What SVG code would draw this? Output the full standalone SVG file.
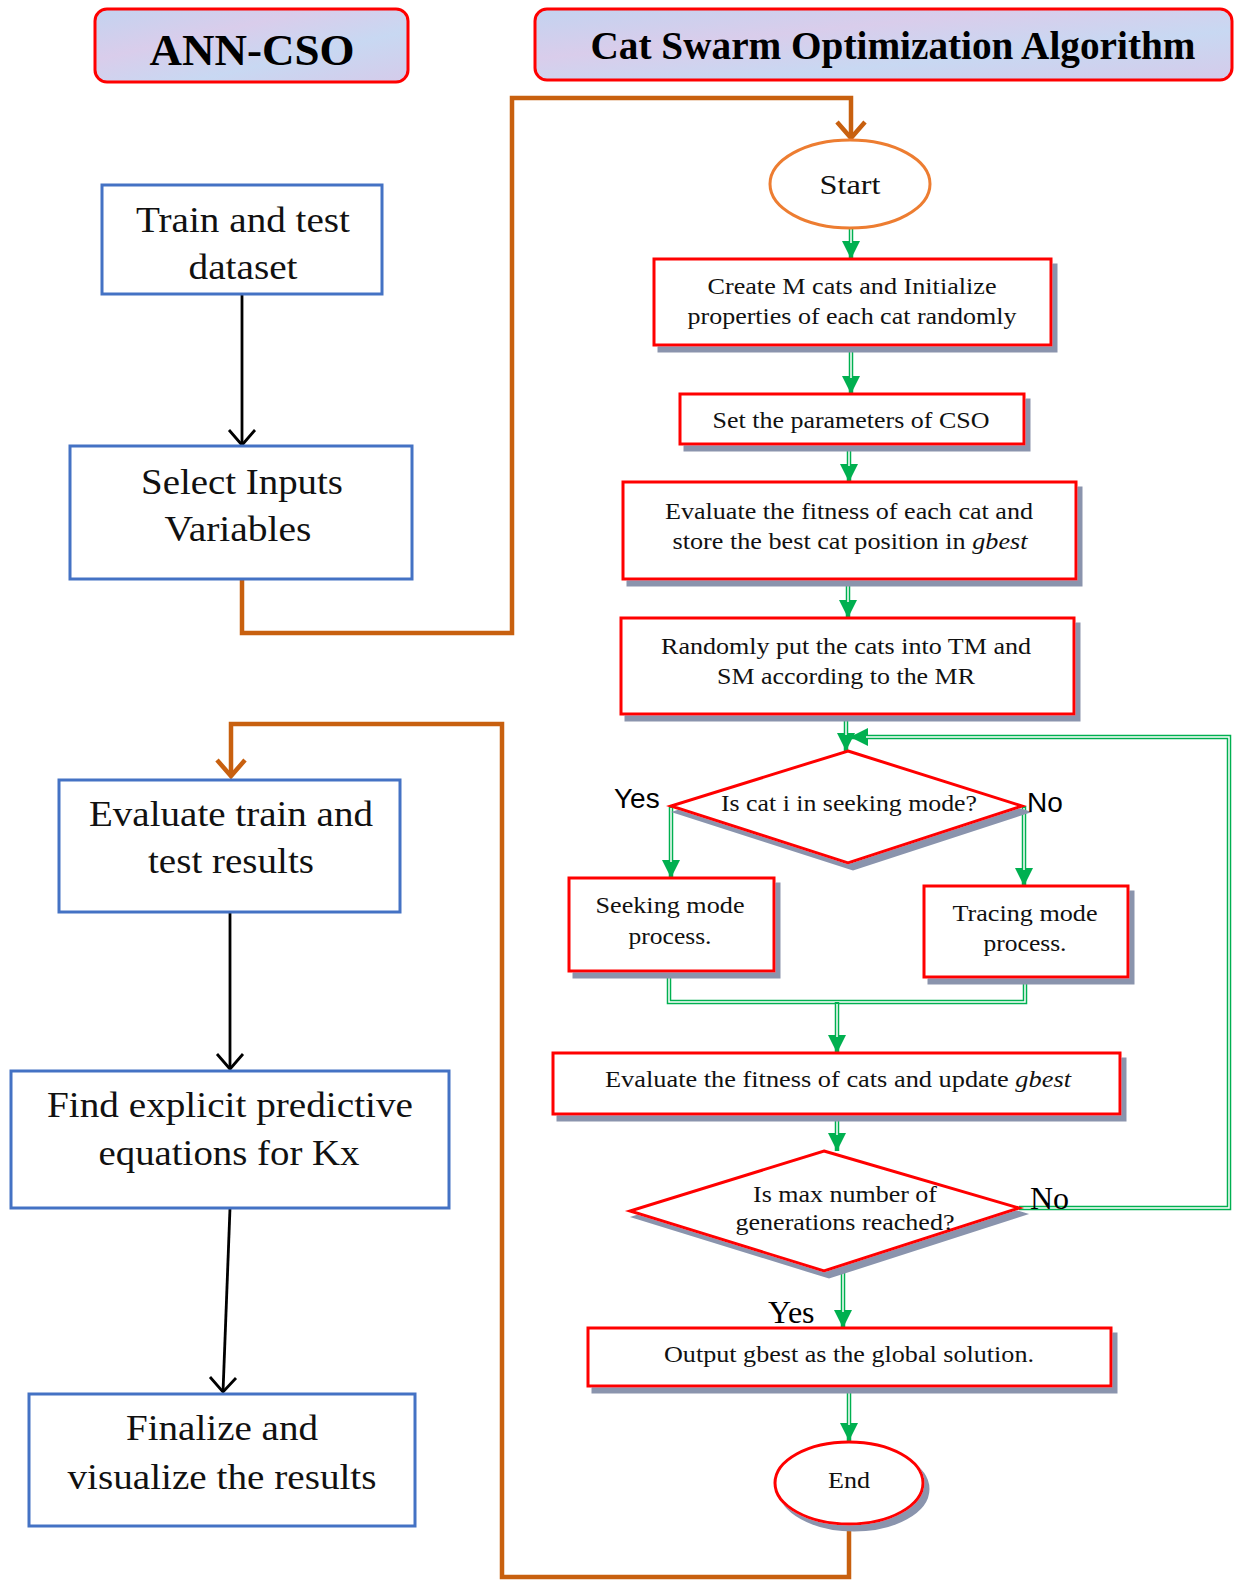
<svg xmlns="http://www.w3.org/2000/svg" width="1234" height="1580" viewBox="0 0 1234 1580">
<defs>
<style>
text{font-family:"Liberation Serif","Times New Roman",serif;fill:#111;text-anchor:middle}
.hdr{fill:url(#hdrg);stroke:#ff0000;stroke-width:3}
.ht{font-weight:bold;font-size:44px;fill:#000}
.bb{fill:#fff;stroke:#4472c4;stroke-width:3}
.lt{font-size:36px}
.rb{fill:#fff;stroke:#ff0000;stroke-width:3;filter:url(#sh)}
.rt{font-size:23px}
.st{fill:#fff;stroke:#ed7d31;stroke-width:3}
.ga{fill:none;stroke:#00b050;stroke-width:4.5}
.gw{fill:none;stroke:#fff;stroke-width:1.5}
.or{fill:none;stroke:#c8600f;stroke-width:4.5;stroke-linejoin:miter}
.bk{fill:none;stroke:#000;stroke-width:2.8}
.lab{font-family:"Liberation Sans",Arial,sans-serif;font-size:28px;fill:#000;text-anchor:start}
.labs{font-size:32px;fill:#000;text-anchor:start}
</style>
<linearGradient id="hdrg" x1="0" y1="0" x2="1" y2="1">
<stop offset="0" stop-color="#c3d3f0"/>
<stop offset="0.35" stop-color="#d9cdeb"/>
<stop offset="0.65" stop-color="#c8d8f2"/>
<stop offset="1" stop-color="#d5cbea"/>
</linearGradient>
<filter id="sh" x="-5%" y="-5%" width="115%" height="120%">
<feFlood flood-color="#8a94ad" result="c"/>
<feComposite in="c" in2="SourceAlpha" operator="in" result="s"/>
<feOffset in="s" dx="5" dy="6" result="o"/>
<feMerge><feMergeNode in="o"/><feMergeNode in="SourceGraphic"/></feMerge>
</filter>
<marker id="ah" markerUnits="userSpaceOnUse" viewBox="0 0 18 18" refX="18" refY="9" markerWidth="18" markerHeight="18" orient="auto">
<path d="M0,0 L18,9 L0,18 Z" fill="#00b050"/>
</marker>
</defs>

<g id="hdr-ann">
<rect class="hdr" x="95" y="9" width="313" height="73" rx="12"/>
<text class="ht" x="252" y="65" textLength="205" lengthAdjust="spacingAndGlyphs">ANN-CSO</text>
</g>
<g id="hdr-cso">
<rect class="hdr" x="535" y="9" width="697" height="71" rx="12"/>
<text class="ht" x="893" y="59" font-size="41" style="font-size:41px" textLength="605" lengthAdjust="spacingAndGlyphs">Cat Swarm Optimization Algorithm</text>
</g>

<g id="connectors">
<path class="or" d="M242,579 V633 H512 V98 H851 V138"/>
<polyline class="or" points="837,122 851,138 865,122"/>
<path class="or" d="M849,1523 V1577 H502 V724 H231 V776"/>
<polyline class="or" points="217,760 231,776 245,760"/>
<line class="bk" x1="242" y1="294" x2="242" y2="445"/>
<polyline class="bk" points="229,430 242,445 255,430"/>
<line class="bk" x1="230" y1="912" x2="230" y2="1069"/>
<polyline class="bk" points="217,1054 230,1069 243,1054"/>
<line class="bk" x1="230" y1="1208" x2="223" y2="1392"/>
<polyline class="bk" points="210,1377 223,1392 236,1378"/>

<path class="ga" d="M851,229 V259" marker-end="url(#ah)"/><path class="gw" d="M851,229 V243"/>
<path class="ga" d="M851,346 V394" marker-end="url(#ah)"/><path class="gw" d="M851,346 V378"/>
<path class="ga" d="M849,444 V482" marker-end="url(#ah)"/><path class="gw" d="M849,444 V466"/>
<path class="ga" d="M848,579 V618" marker-end="url(#ah)"/><path class="gw" d="M848,579 V602"/>
<path class="ga" d="M846,714 V751" marker-end="url(#ah)"/><path class="gw" d="M846,714 V735"/>
<path class="ga" d="M1019,1208 H1229 V737 H850" marker-end="url(#ah)"/><path class="gw" d="M1019,1208 H1229 V737 H866"/>
<path class="ga" d="M671,806 V878" marker-end="url(#ah)"/><path class="gw" d="M671,808 V862"/>
<path class="ga" d="M1024,806 V886" marker-end="url(#ah)"/><path class="gw" d="M1024,808 V870"/>
<path class="ga" d="M669,971 V1002 H1025 V977"/><path class="gw" d="M669,971 V1002 H1025 V977"/>
<path class="ga" d="M837,1002 V1053" marker-end="url(#ah)"/><path class="gw" d="M837,1004 V1037"/>
<path class="ga" d="M837,1114 V1151" marker-end="url(#ah)"/><path class="gw" d="M837,1114 V1135"/>
<path class="ga" d="M843,1272 V1328" marker-end="url(#ah)"/><path class="gw" d="M843,1272 V1312"/>
<path class="ga" d="M849,1386 V1441" marker-end="url(#ah)"/><path class="gw" d="M849,1386 V1425"/>
</g>

<g id="n-train">
<rect class="bb" x="102" y="185" width="280" height="109"/>
<text class="lt" x="243" y="232" textLength="214" lengthAdjust="spacingAndGlyphs">Train and test</text>
<text class="lt" x="243" y="279" textLength="109" lengthAdjust="spacingAndGlyphs">dataset</text>
</g>
<g id="n-select">
<rect class="bb" x="70" y="446" width="342" height="133"/>
<text class="lt" x="242" y="494" textLength="202" lengthAdjust="spacingAndGlyphs">Select Inputs</text>
<text class="lt" x="238" y="541" textLength="147" lengthAdjust="spacingAndGlyphs">Variables</text>
</g>
<g id="n-evalres">
<rect class="bb" x="59" y="780" width="341" height="132"/>
<text class="lt" x="231" y="826" textLength="284" lengthAdjust="spacingAndGlyphs">Evaluate train and</text>
<text class="lt" x="231" y="873" textLength="166" lengthAdjust="spacingAndGlyphs">test results</text>
</g>
<g id="n-find">
<rect class="bb" x="11" y="1071" width="438" height="137"/>
<text class="lt" x="230" y="1117" textLength="366" lengthAdjust="spacingAndGlyphs">Find explicit predictive</text>
<text class="lt" x="229" y="1165" textLength="261" lengthAdjust="spacingAndGlyphs">equations for Kx</text>
</g>
<g id="n-final">
<rect class="bb" x="29" y="1394" width="386" height="132"/>
<text class="lt" x="222" y="1440" textLength="192" lengthAdjust="spacingAndGlyphs">Finalize and</text>
<text class="lt" x="222" y="1489" textLength="309" lengthAdjust="spacingAndGlyphs">visualize the results</text>
</g>

<g id="n-start">
<ellipse class="st" cx="850" cy="184" rx="80" ry="44"/>
<text x="850" y="194" font-size="28" textLength="61" lengthAdjust="spacingAndGlyphs">Start</text>
</g>
<g id="n-create">
<rect class="rb" x="654" y="259" width="397" height="86"/>
<text class="rt" x="852" y="294" textLength="289" lengthAdjust="spacingAndGlyphs">Create M cats and Initialize</text>
<text class="rt" x="852" y="324" textLength="329" lengthAdjust="spacingAndGlyphs">properties of each cat randomly</text>
</g>
<g id="n-set">
<rect class="rb" x="680" y="394" width="344" height="50"/>
<text class="rt" x="851" y="428" textLength="277" lengthAdjust="spacingAndGlyphs">Set the parameters of CSO</text>
</g>
<g id="n-evalfit">
<rect class="rb" x="623" y="482" width="453" height="97"/>
<text class="rt" x="849" y="519" textLength="368" lengthAdjust="spacingAndGlyphs">Evaluate the fitness of each cat and</text>
<text class="rt" x="850" y="549" textLength="355" lengthAdjust="spacingAndGlyphs">store the best cat position in <tspan font-style="italic">gbest</tspan></text>
</g>
<g id="n-random">
<rect class="rb" x="621" y="618" width="453" height="96"/>
<text class="rt" x="846" y="654" textLength="370" lengthAdjust="spacingAndGlyphs">Randomly put the cats into TM and</text>
<text class="rt" x="846" y="684" textLength="258" lengthAdjust="spacingAndGlyphs">SM according to the MR</text>
</g>
<g id="n-seekq">
<polygon class="rb" points="848,751 1022,806 848,863 671,806"/>
<text class="rt" x="849" y="811" textLength="256" lengthAdjust="spacingAndGlyphs">Is cat i in seeking mode?</text>
<text class="lab" x="614" y="808">Yes</text>
<text class="lab" x="1027" y="812" font-size="30">No</text>
</g>
<g id="n-seek">
<rect class="rb" x="569" y="878" width="205" height="93"/>
<text class="rt" x="670" y="913" textLength="149" lengthAdjust="spacingAndGlyphs">Seeking mode</text>
<text class="rt" x="670" y="944" textLength="83" lengthAdjust="spacingAndGlyphs">process.</text>
</g>
<g id="n-trace">
<rect class="rb" x="924" y="886" width="204" height="91"/>
<text class="rt" x="1025" y="921" textLength="145" lengthAdjust="spacingAndGlyphs">Tracing mode</text>
<text class="rt" x="1025" y="951" textLength="83" lengthAdjust="spacingAndGlyphs">process.</text>
</g>
<g id="n-update">
<rect class="rb" x="553" y="1053" width="567" height="61"/>
<text class="rt" x="838" y="1087" textLength="466" lengthAdjust="spacingAndGlyphs">Evaluate the fitness of cats and update <tspan font-style="italic">gbest</tspan></text>
</g>
<g id="n-maxq">
<polygon class="rb" points="824,1151 1019,1208 824,1271 630,1211"/>
<text class="rt" x="845" y="1202" textLength="184" lengthAdjust="spacingAndGlyphs">Is max number of</text>
<text class="rt" x="845" y="1230" textLength="219" lengthAdjust="spacingAndGlyphs">generations reached?</text>
<text class="labs" x="1030" y="1209">No</text>
<text class="labs" x="768" y="1323">Yes</text>
</g>
<g id="n-output">
<rect class="rb" x="588" y="1328" width="523" height="58"/>
<text class="rt" x="849" y="1362" textLength="370" lengthAdjust="spacingAndGlyphs">Output gbest as the global solution.</text>
</g>
<g id="n-end">
<ellipse class="rb" cx="849" cy="1483" rx="74" ry="41"/>
<text x="849" y="1488" font-size="23" textLength="42" lengthAdjust="spacingAndGlyphs">End</text>
</g>
</svg>
